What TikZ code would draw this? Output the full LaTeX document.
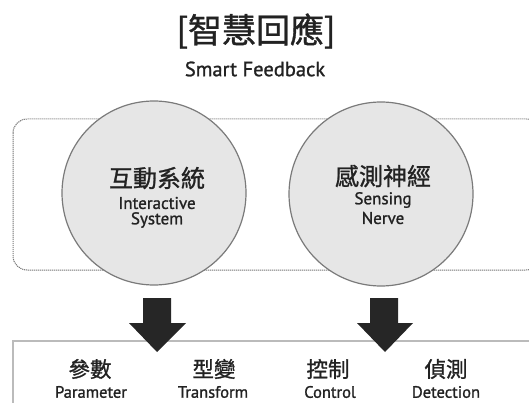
\documentclass[tikz,border=0pt]{standalone}
\usepackage{fontspec}
\setmainfont{PT Sans}[FakeBold=1]
\newfontfamily\cjk{Noto Sans CJK TC}[FakeBold=1.1]
\newfontfamily\enf{PT Sans}[FakeBold=1.2]
\definecolor{circfill}{HTML}{E6E6E6}
\definecolor{circline}{HTML}{7A7A7A}
\definecolor{dashline}{HTML}{777777}
\definecolor{boxline}{HTML}{BBBBBB}
\definecolor{arrowfill}{HTML}{262626}
\definecolor{txt}{HTML}{222222}
\tikzset{
  bubble/.style={circle, draw=circline, line width=1.2pt, fill=circfill, minimum size=184pt, inner sep=0pt},
  zh/.style={font=\cjk\fontsize{24}{24}\selectfont, text=txt, inner sep=0pt},
  en/.style={font=\enf\fontsize{17}{17}\selectfont, text=txt, inner sep=0pt},
  zhs/.style={font=\cjk\fontsize{21.5}{21.5}\selectfont, text=txt, inner sep=0pt},
  ens/.style={font=\enf\fontsize{16.5}{16.5}\selectfont, text=txt, inner sep=0pt},
  blockarrow/.style={fill=arrowfill, draw=none},
}
\begin{document}
\begin{tikzpicture}[x=1pt,y=-1pt]
\useasboundingbox (0,0) rectangle (529,403);
% title
\node[font=\cjk\fontsize{34}{34}\selectfont, text=txt, inner sep=0pt] (title) at (256,31) {[智慧回應]};
\node[font=\enf\fontsize{20.5}{20.5}\selectfont, text=txt, inner sep=0pt] (subtitle) at (255,69) {Smart Feedback};
% dashed frame
\draw[dashline, line width=1pt, dash pattern=on 1.2pt off 0.8pt, rounded corners=14pt] (13,119) rectangle (540,270);
% circles
\node[bubble] (left) at (154,193) {};
\node[bubble] (right) at (381,194) {};
\node[zh] (lzh) at (157,178) {互動系統};
\node[en] (len1) at (157,203) {Interactive};
\node[en] (len2) at (157,220) {System};
\node[zh] (rzh) at (383,176) {感測神經};
\node[en] (ren1) at (383,200) {Sensing};
\node[en] (ren2) at (383,218) {Nerve};
% bottom box
\draw[boxline, line width=1.4pt] (540,341) -- (13,341) -- (13,410);
% block arrows
\fill[blockarrow] (143,298) -- (171,298) -- (171,323) -- (186,323) -- (157,352) -- (129,323) -- (143,323) -- cycle;
\fill[blockarrow] (370,298) -- (398,298) -- (398,323) -- (413,323) -- (385,352) -- (357,323) -- (370,323) -- cycle;
% bottom labels
\node[zhs] (b1z) at (90,369) {參數};
\node[ens] (b1e) at (91,392) {Parameter};
\node[zhs] (b2z) at (214,369) {型變};
\node[ens] (b2e) at (213,392) {Transform};
\node[zhs] (b3z) at (328,369) {控制};
\node[ens] (b3e) at (330,392) {Control};
\node[zhs] (b4z) at (446,369) {偵測};
\node[ens] (b4e) at (446,392) {Detection};
\end{tikzpicture}
\end{document}
